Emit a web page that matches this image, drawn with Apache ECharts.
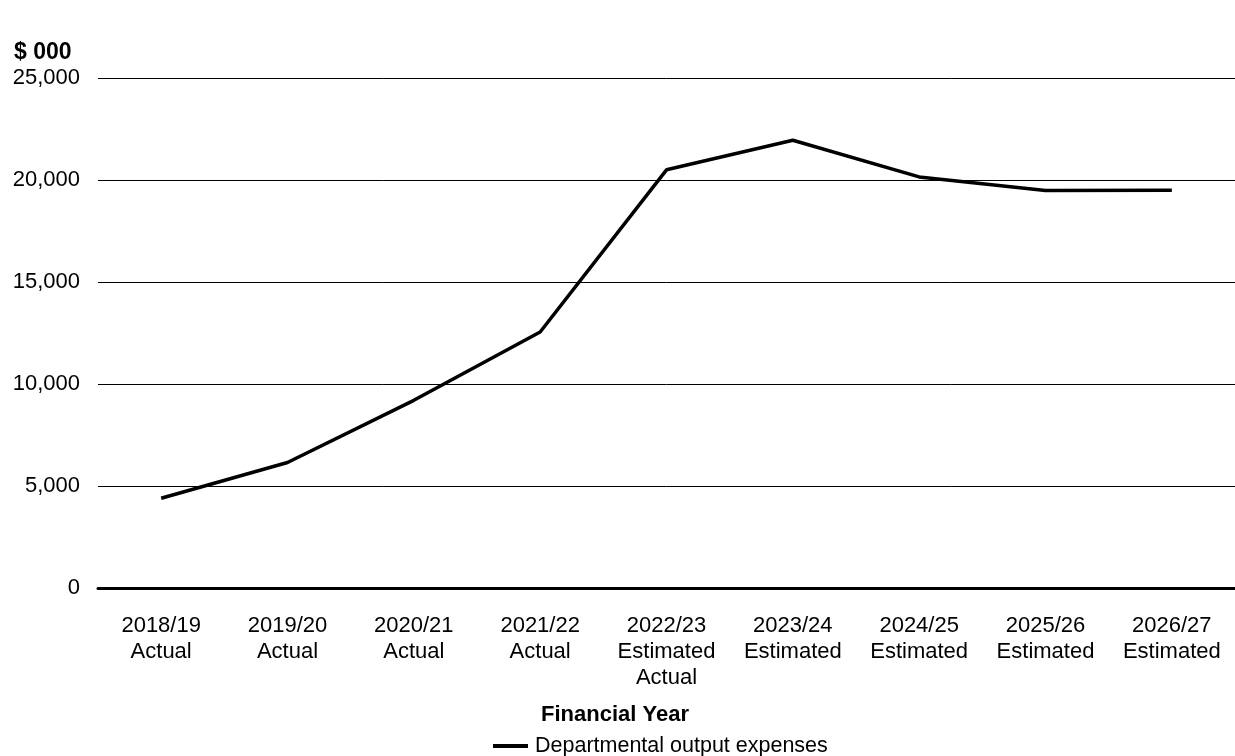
<!DOCTYPE html>
<html>
<head>
<meta charset="utf-8">
<script src="https://cdn.jsdelivr.net/npm/echarts@6/dist/echarts.min.js"></script>
<style>
  html, body { margin: 0; padding: 0; background: #fff; }
  #chart { width: 1235px; height: 756px; }
</style>
</head>
<body>
<div id="chart"></div>
<script>
// 财年分类及数值($ 000)
const years = [
  '2018/19\nActual', '2019/20\nActual', '2020/21\nActual', '2021/22\nActual',
  '2022/23\nEstimated\nActual', '2023/24\nEstimated', '2024/25\nEstimated',
  '2025/26\nEstimated', '2026/27\nEstimated'
]
const expenses = [4400, 6150, 9200, 12550, 20500, 21950, 20150, 19480, 19500]
const seriesName = 'Departmental output expenses'

const font = '"Liberation Sans", Arial, sans-serif'
const chart = echarts.init(document.getElementById('chart'))

chart.setOption({
  animation: false,
  textStyle: { fontFamily: font },
  title: [
    {
      text: '$ 000',
      left: 14,
      top: 41,
      padding: 0,
      textStyle: { fontSize: 23, fontWeight: 'bold', color: '#000', fontFamily: font }
    },
    {
      text: 'Financial Year',
      left: 541,
      top: 704,
      padding: 0,
      textStyle: { fontSize: 22, fontWeight: 'bold', color: '#000', fontFamily: font }
    }
  ],
  legend: {
    data: [seriesName],
    top: 735,
    left: 493,
    padding: 0,
    icon: 'rect',
    itemWidth: 35,
    itemHeight: 4,
    itemGap: 6,
    textStyle: { fontSize: 21.5, color: '#000', fontFamily: font, padding: [0, 0, 0, 2] }
  },
  grid: {
    left: 98,
    top: 78,
    width: 1146,
    height: 510,
    containLabel: false
  },
  xAxis: {
    type: 'category',
    data: years,
    axisTick: { show: false },
    axisLine: { show: true, lineStyle: { color: '#000', width: 3 } },
    axisLabel: { color: '#000', fontSize: 22, lineHeight: 26, margin: 25, interval: 0 }
  },
  yAxis: {
    type: 'value',
    min: 0,
    max: 25000,
    interval: 5000,
    axisLine: { show: false },
    axisTick: { show: false },
    axisLabel: {
      color: '#000',
      fontSize: 22,
      margin: 18,
      formatter: v => v.toLocaleString('en-US')
    },
    splitLine: { lineStyle: { color: '#000', width: 1 } }
  },
  series: [
    {
      name: seriesName,
      type: 'line',
      data: expenses,
      symbol: 'none',
      lineStyle: { color: '#000', width: 3.5 },
      itemStyle: { color: '#000' }
    }
  ]
})
</script>
</body>
</html>
